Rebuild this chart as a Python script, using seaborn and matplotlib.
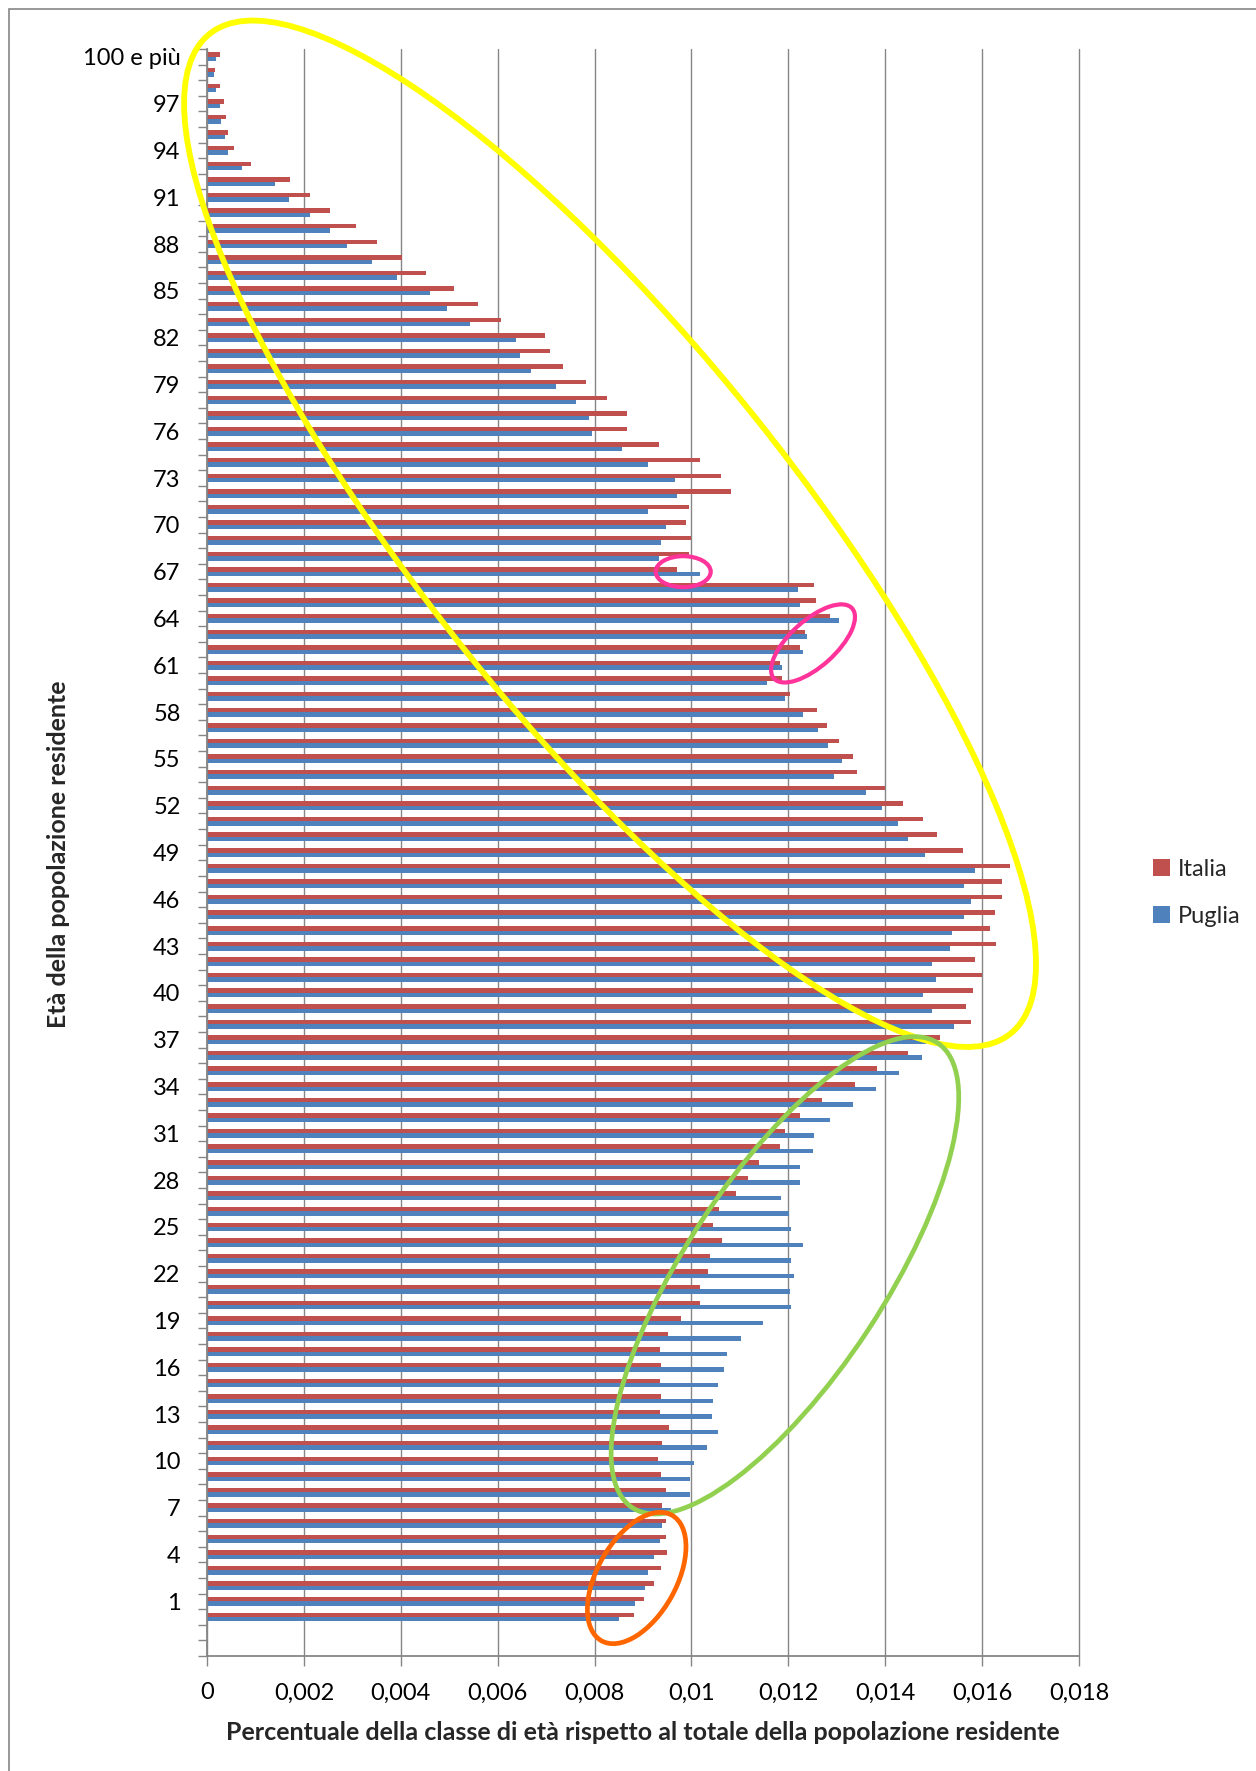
import numpy as np
import pandas as pd
import matplotlib
matplotlib.use("Agg")
import matplotlib.pyplot as plt
import seaborn as sns
from matplotlib.patches import Ellipse, Patch, Rectangle
from matplotlib.transforms import IdentityTransform

# ---------------- data ----------------
ages = ["100 e più"] + [str(a) for a in range(99, -1, -1)]

italia = [
    0.00027, 0.00017, 0.00027, 0.00035, 0.00040, 0.00043, 0.00056, 0.00091, 0.00171, 0.00213,   # 100..91
    0.00254, 0.00308, 0.00350, 0.00402, 0.00453, 0.00510, 0.00559, 0.00607, 0.00698, 0.00707,   # 90..81
    0.00734, 0.00783, 0.00826, 0.00868, 0.00866, 0.00932, 0.01018, 0.01060, 0.01082, 0.00994,   # 80..71
    0.00989, 0.00999, 0.00994, 0.00970, 0.01254, 0.01258, 0.01287, 0.01234, 0.01225, 0.01183,   # 70..61
    0.01186, 0.01204, 0.01260, 0.01279, 0.01305, 0.01333, 0.01342, 0.01400, 0.01436, 0.01479,   # 60..51
    0.01507, 0.01560, 0.01658, 0.01642, 0.01642, 0.01626, 0.01617, 0.01628, 0.01586, 0.01600,   # 50..41
    0.01582, 0.01566, 0.01577, 0.01514, 0.01446, 0.01384, 0.01338, 0.01269, 0.01225, 0.01194,   # 40..31
    0.01182, 0.01140, 0.01116, 0.01093, 0.01057, 0.01045, 0.01064, 0.01038, 0.01035, 0.01018,   # 30..21
    0.01017, 0.00978, 0.00951, 0.00935, 0.00938, 0.00935, 0.00938, 0.00935, 0.00953, 0.00940,   # 20..11
    0.00930, 0.00938, 0.00947, 0.00940, 0.00947, 0.00947, 0.00949, 0.00938, 0.00922, 0.00903,   # 10..1
    0.00881,                                                                                     # 0
]

puglia = [
    0.00018, 0.00014, 0.00018, 0.00027, 0.00029, 0.00037, 0.00043, 0.00072, 0.00141, 0.00169,
    0.00213, 0.00254, 0.00290, 0.00341, 0.00393, 0.00461, 0.00496, 0.00543, 0.00638, 0.00647,
    0.00668, 0.00721, 0.00762, 0.00788, 0.00795, 0.00856, 0.00911, 0.00967, 0.00971, 0.00911,
    0.00948, 0.00938, 0.00932, 0.01018, 0.01219, 0.01225, 0.01305, 0.01239, 0.01230, 0.01187,
    0.01155, 0.01194, 0.01230, 0.01262, 0.01281, 0.01310, 0.01295, 0.01361, 0.01393, 0.01427,
    0.01447, 0.01482, 0.01586, 0.01563, 0.01577, 0.01562, 0.01538, 0.01533, 0.01496, 0.01504,
    0.01477, 0.01496, 0.01541, 0.01485, 0.01475, 0.01428, 0.01380, 0.01333, 0.01286, 0.01252,
    0.01250, 0.01225, 0.01225, 0.01184, 0.01202, 0.01206, 0.01230, 0.01206, 0.01211, 0.01204,
    0.01206, 0.01147, 0.01103, 0.01074, 0.01067, 0.01054, 0.01044, 0.01042, 0.01054, 0.01033,
    0.01005, 0.00998, 0.00996, 0.00957, 0.00940, 0.00935, 0.00922, 0.00910, 0.00904, 0.00883,
    0.00850,
]

series = ["Italia", "Puglia"]
x_ticks = [0, 0.002, 0.004, 0.006, 0.008, 0.010, 0.012, 0.014, 0.016, 0.018]
x_tick_labels = ["0", "0,002", "0,004", "0,006", "0,008", "0,01", "0,012", "0,014", "0,016", "0,018"]
x_title = "Percentuale della classe di età rispetto al totale della popolazione residente"
y_title = "Età della popolazione residente"

# ---------------- style ----------------
RED = "#C0504D"
BLUE = "#4F81BD"
GRAY = "#868686"

sns.set_theme(style="white")
plt.rcParams["font.family"] = ["Lato", "DejaVu Sans"]

W, H = 1256, 1771
fig = plt.figure(figsize=(W / 100, H / 100), dpi=100)
fig.patch.set_facecolor("white")

ax = fig.add_axes([207 / W, 1 - 1656 / H, (1079 - 207) / W, (1656 - 49) / H])

df = pd.DataFrame({
    "eta": ages * 2,
    "valore": italia + puglia,
    "serie": [series[0]] * len(ages) + [series[1]] * len(ages),
})

sns.barplot(data=df, y="eta", x="valore", hue="serie", order=ages, hue_order=series,
            palette=[RED, BLUE], orient="h", width=0.57, saturation=1, dodge=True,
            errorbar=None, legend=False, ax=ax, linewidth=0)

n_extra = 2  # two empty category slots below age 0
ax.set_ylim(len(ages) - 0.5 + n_extra, -0.5)
ax.set_xlim(0, 0.018)

ax.set_xlabel("")
ax.set_ylabel("")

# y ticks: labels every 3rd category, tick marks between categories
lab_idx = list(range(0, len(ages), 3))
ax.set_yticks(lab_idx)
ax.set_yticklabels([ages[i] for i in lab_idx], fontsize=17, color="black")
ax.set_yticks(np.arange(-0.5, len(ages) + n_extra, 1.0), minor=True)
ax.tick_params(axis="y", which="major", length=0, pad=19)
ax.tick_params(axis="y", which="minor", length=6.5, width=1, color=GRAY, direction="out", left=True)

ax.set_xticks(x_ticks)
ax.set_xticklabels(x_tick_labels, fontsize=17, color="black")
ax.tick_params(axis="x", which="major", length=7, width=1, color=GRAY, direction="out", pad=12, bottom=True)

ax.grid(axis="x", color=GRAY, linewidth=1)
ax.grid(axis="y", visible=False)
for gl in ax.get_xgridlines():
    gl.set_clip_on(False)
ax.set_axisbelow(True)
for s in ["top", "right"]:
    ax.spines[s].set_visible(False)
for s in ["left", "bottom"]:
    ax.spines[s].set_color(GRAY)
    ax.spines[s].set_linewidth(1.3)

# titles
fig.text(643 / W, 1 - 1733 / H, x_title, ha="center", va="center", fontsize=18, fontweight="bold")
fig.text(59 / W, 1 - 854 / H, y_title, ha="center", va="center", rotation=90, fontsize=18, fontweight="bold")

# legend
handles = [Patch(facecolor=RED, edgecolor="none"), Patch(facecolor=BLUE, edgecolor="none")]
fig.legend(handles, series, loc="center left", bbox_to_anchor=(1132 / W, 1 - 893 / H),
           frameon=False, fontsize=17, handlelength=0.7, handleheight=0.7,
           handletextpad=0.35, labelspacing=1.1)

# chart border
fig.add_artist(Rectangle((9 / W, -0.01), 1.1, 1 - 9 / H + 0.01, transform=fig.transFigure,
                         fill=False, edgecolor=GRAY, linewidth=1.2))

# hand-drawn highlight ellipses (annotation)
fig.canvas.draw()
highlights = [
    # (value, category index, width px, height px, angle, colour, lw)
    (0.00832, 30.57, 1281, 372, -51.3, "#FFFF00", 4.2),
    (0.01193, 78.10, 556, 199, 56.7, "#92D050", 3.4),
    (0.00887, 97.50, 144, 79, 60.7, "#FF6600", 3.4),
    (0.00983, 33.00, 55, 31, 0, "#FF3399", 3.0),
    (0.01251, 37.60, 105, 46, 42, "#FF3399", 3.0),
]
for xv, yi, w, h, ang, col, lw in highlights:
    cx, cy = ax.transData.transform((xv, yi))
    e = Ellipse((cx, cy), w, h, angle=ang, transform=IdentityTransform(),
                fill=False, edgecolor=col, linewidth=lw, zorder=5)
    fig.add_artist(e)

fig.savefig("out.png", dpi=100)
